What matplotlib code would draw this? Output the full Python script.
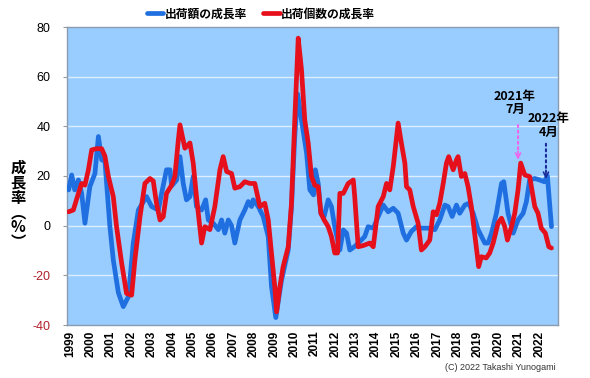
import matplotlib
matplotlib.use("Agg")
import matplotlib.pyplot as plt
from matplotlib.ticker import FixedLocator

# --- data (decimal year vs growth rate %) ---
value_years = [
    1999.0, 1999.15, 1999.3, 1999.48, 1999.64, 1999.8, 2000.04, 2000.29, 2000.46, 2000.62,
    2000.78, 2001.02, 2001.19, 2001.44, 2001.68, 2001.93, 2002.17, 2002.42, 2002.82, 2003.07,
    2003.4, 2003.56, 2003.8, 2003.97, 2004.05, 2004.3, 2004.46, 2004.62, 2004.78, 2004.95,
    2005.11, 2005.27, 2005.52, 2005.72, 2005.85, 2006.09, 2006.34, 2006.5, 2006.66, 2006.83,
    2006.99, 2007.15, 2007.4, 2007.64, 2007.81, 2007.97, 2008.05, 2008.3, 2008.54, 2008.79,
    2008.95, 2009.16, 2009.44, 2009.77, 2009.93, 2010.09, 2010.23, 2010.42, 2010.67, 2010.83,
    2011.01, 2011.1, 2011.24, 2011.37, 2011.53, 2011.73, 2011.89, 2012.05, 2012.3, 2012.47,
    2012.63, 2012.79, 2013.03, 2013.28, 2013.52, 2013.69, 2013.94, 2014.18, 2014.43, 2014.67,
    2014.92, 2015.16, 2015.41, 2015.57, 2015.81, 2016.06, 2016.3, 2016.63, 2016.96, 2017.2,
    2017.45, 2017.61, 2017.81, 2018.02, 2018.18, 2018.43, 2018.62, 2018.84, 2019.08, 2019.41,
    2019.57, 2019.74, 2019.98, 2020.23, 2020.34, 2020.55, 2020.8, 2021.04, 2021.29, 2021.45,
    2021.61, 2021.86, 2022.1, 2022.32, 2022.48, 2022.68,
]
value_growth = [
    14.4, 20.4, 14.4, 18.4, 13.0, 1.0, 15.7, 21.0, 35.9, 26.5,
    26.0, 0.0, -13.8, -27.0, -32.6, -28.6, -7.0, 6.3, 11.7, 7.7,
    6.3, 13.0, 22.5, 22.5, 16.0, 18.4, 27.8, 17.0, 10.4, 11.7,
    19.8, 7.7, 6.3, 10.4, 2.3, 1.0, -1.6, 2.3, -3.0, 2.3,
    0.0, -7.0, 2.3, 6.3, 9.7, 7.7, 10.4, 7.7, 3.7, -4.4,
    -24.6, -37.0, -22.0, -9.8, 7.7, 35.9, 53.0, 42.6, 29.2, 14.4,
    12.4, 22.5, 17.0, 5.0, 3.7, 10.4, 7.7, -0.4, -9.8, -1.7,
    -3.0, -9.8, -8.4, -6.4, -4.4, -0.4, -1.0, 3.6, 8.3, 5.6,
    7.0, 5.0, -3.0, -5.8, -2.3, -0.4, -1.0, -1.0, -1.6, 2.3,
    8.3, 7.7, 3.7, 8.3, 5.0, 8.3, 9.0, 5.0, -1.6, -7.0,
    -7.0, -3.0, 5.0, 17.0, 17.7, 5.0, -3.0, 2.3, 5.0, 9.7,
    18.4, 19.0, 18.4, 17.7, 20.0, -0.4,
]

units_years = [
    1999.0, 1999.23, 1999.48, 1999.64, 1999.8, 1999.97, 2000.13, 2000.37, 2000.62, 2000.78,
    2000.95, 2001.19, 2001.35, 2001.6, 2001.84, 2002.09, 2002.25, 2002.5, 2002.74, 2002.99,
    2003.15, 2003.31, 2003.48, 2003.64, 2003.8, 2004.05, 2004.21, 2004.38, 2004.46, 2004.7,
    2004.95, 2005.11, 2005.27, 2005.52, 2005.68, 2005.93, 2006.17, 2006.42, 2006.58, 2006.75,
    2006.99, 2007.15, 2007.4, 2007.64, 2007.89, 2008.13, 2008.38, 2008.62, 2008.79, 2008.95,
    2009.11, 2009.2, 2009.36, 2009.52, 2009.77, 2009.93, 2010.09, 2010.26, 2010.42, 2010.58,
    2010.75, 2010.91, 2011.07, 2011.24, 2011.37, 2011.53, 2011.73, 2011.89, 2012.05, 2012.19,
    2012.3, 2012.47, 2012.71, 2012.96, 2013.03, 2013.2, 2013.45, 2013.77, 2013.94, 2014.18,
    2014.43, 2014.59, 2014.75, 2014.92, 2015.03, 2015.16, 2015.32, 2015.49, 2015.57, 2015.73,
    2015.9, 2016.14, 2016.3, 2016.47, 2016.71, 2016.88, 2017.04, 2017.2, 2017.37, 2017.53,
    2017.64, 2017.86, 2018.02, 2018.1, 2018.26, 2018.43, 2018.59, 2018.75, 2018.91, 2019.11,
    2019.24, 2019.48, 2019.65, 2019.82, 2020.06, 2020.23, 2020.39, 2020.52, 2020.72, 2020.88,
    2021.04, 2021.17, 2021.37, 2021.61, 2021.86, 2022.02, 2022.18, 2022.38, 2022.55, 2022.68,
]
units_growth = [
    5.6, 6.3, 13.0, 17.0, 16.3, 22.5, 30.5, 31.0, 31.0, 28.0,
    19.8, 11.7, -0.4, -15.0, -27.3, -28.0, -13.8, 3.6, 17.0, 19.0,
    18.0, 9.0, 2.3, 3.6, 13.0, 16.3, 19.8, 34.5, 40.6, 31.2,
    33.3, 25.2, 11.7, -7.0, -0.4, -1.6, 7.7, 22.5, 27.8, 21.8,
    21.0, 15.1, 15.7, 17.7, 17.0, 17.0, 7.7, 9.0, 2.3, -11.0,
    -24.6, -34.7, -24.6, -16.5, -8.5, 9.0, 42.6, 75.5, 62.8, 42.6,
    33.2, 19.8, 16.3, 15.7, 5.0, 2.3, -0.4, -4.4, -11.0, -11.0,
    13.0, 13.0, 17.0, 18.4, 11.7, -8.5, -8.0, -7.0, -8.5, 7.7,
    11.7, 17.0, 14.4, 23.8, 31.9, 41.3, 33.2, 25.2, 15.7, 14.4,
    7.7, 1.0, -9.8, -8.5, -5.8, 5.6, 4.4, 9.0, 17.0, 25.2,
    27.8, 22.5, 26.5, 27.8, 19.8, 21.0, 15.7, 7.7, -3.0, -16.5,
    -12.5, -13.0, -11.0, -7.0, 1.0, 3.0, -0.4, -5.8, -0.4, 5.0,
    14.4, 25.2, 20.4, 19.8, 7.7, 5.0, -1.0, -3.0, -8.5, -9.0,
]

year_labels = [str(y) for y in range(1999, 2023)]
y_ticks = [-40, -20, 0, 20, 40, 60, 80]
series_names = ["出荷額の成長率", "出荷個数の成長率"]

BLUE = "#1f6fe0"
RED = "#e6101c"
NUM_FONT = ["Liberation Sans Narrow", "Liberation Sans", "DejaVu Sans"]
JP_FONT = ["Noto Sans CJK JP", "DejaVu Sans"]
MIX_FONT = ["Liberation Sans Narrow", "Noto Sans CJK JP", "DejaVu Sans"]

plt.rcParams["font.family"] = JP_FONT

fig = plt.figure(figsize=(5.9, 3.78), dpi=100)
ax = fig.add_axes([67 / 590, 1 - 325 / 378, (558 - 67) / 590, (325 - 27) / 378])
ax.set_facecolor("#99ccff")

ax.plot(value_years, value_growth, color=BLUE, lw=3.4, solid_joinstyle="round",
        solid_capstyle="round", label=series_names[0], zorder=3)
ax.plot(units_years, units_growth, color=RED, lw=3.4, solid_joinstyle="round",
        solid_capstyle="round", label=series_names[1], zorder=4)

ax.set_xlim(1998.92, 2023.0)
ax.set_ylim(-40, 80)
ax.yaxis.set_major_locator(FixedLocator(y_ticks))
for v in y_ticks[1:-1]:
    ax.axhline(v, color="#dcefff", lw=1.0, zorder=1)

ax.set_yticks(y_ticks)
ax.set_yticklabels([str(v) for v in y_ticks], family=NUM_FONT, fontsize=9)
for lab, v in zip(ax.get_yticklabels(), y_ticks):
    if v < 0:
        lab.set_color("#b0202a")
ax.tick_params(axis="y", length=3, width=0.8, color="#999999", pad=9)

ax.set_xticks([y + 0.08 for y in range(1999, 2023)])
ax.set_xticklabels(year_labels, rotation=90, family=NUM_FONT, fontsize=8.5, fontweight="bold")
ax.tick_params(axis="x", length=0, pad=4)

for side in ["left", "bottom", "top", "right"]:
    ax.spines[side].set_color("#8a9bb0")
    ax.spines[side].set_linewidth(1.0)

# vertical axis title, one character per line (vertical-form brackets)
fig.text(18 / 590, 1 - 205 / 378, "成\n長\n率\n︵\n%\n︶", ha="center", va="center",
         fontsize=11, fontweight="bold", linespacing=0.92, family=JP_FONT)

fig.legend(loc="center", bbox_to_anchor=(261 / 590, 1 - 14 / 378), ncol=2, frameon=False,
           prop={"family": JP_FONT, "size": 8.5, "weight": "bold"},
           handlelength=1.4, handletextpad=0.1, columnspacing=1.4)

# annotations
ax.text(2020.89, 44, "2021年\n7月", ha="center", va="bottom", fontsize=9, fontweight="bold",
        family=MIX_FONT, linespacing=1.05, clip_on=False)
ax.annotate("", xy=(2021.04, 29.5), xytext=(2021.04, 40.5),
            arrowprops=dict(arrowstyle="-", linestyle=":", color="#ee66ee", lw=1.5,
                            shrinkA=0, shrinkB=0))
ax.annotate("", xy=(2021.04, 26.5), xytext=(2021.04, 30.0),
            arrowprops=dict(arrowstyle="->", color="#ee66ee", lw=1.2,
                            shrinkA=0, shrinkB=0, mutation_scale=9))
ax.text(2022.56, 35, "2022年\n4月", ha="center", va="bottom", fontsize=9, fontweight="bold",
        family=MIX_FONT, linespacing=1.05, clip_on=False)
ax.annotate("", xy=(2022.41, 21.8), xytext=(2022.41, 33),
            arrowprops=dict(arrowstyle="-", linestyle=":", color="#1a2a9a", lw=1.5,
                            shrinkA=0, shrinkB=0))
ax.annotate("", xy=(2022.41, 18.8), xytext=(2022.41, 22.3),
            arrowprops=dict(arrowstyle="->", color="#1a2a9a", lw=1.2,
                            shrinkA=0, shrinkB=0, mutation_scale=9))

fig.text(556 / 590, 1 - 368 / 378, "(C) 2022 Takashi Yunogami", ha="right", va="center",
         fontsize=6.5, family=NUM_FONT, color="#333333")

fig.savefig("out.png", dpi=100)
